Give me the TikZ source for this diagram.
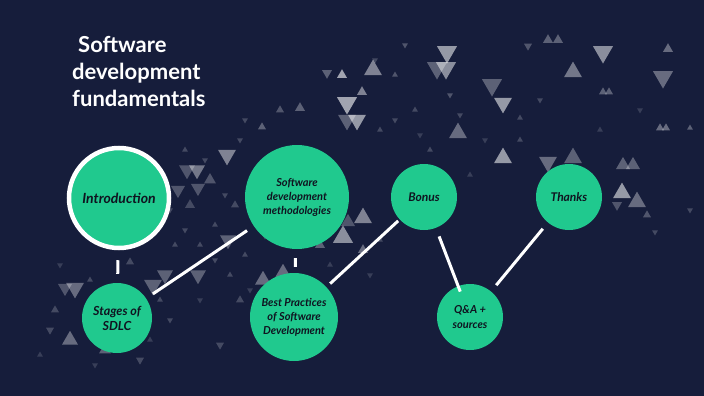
\documentclass[tikz,border=0pt]{standalone}
\usepackage{fontspec}
\setmainfont{Lato}
\usepackage{xcolor}
\usetikzlibrary{positioning}
\definecolor{navy}{HTML}{161D3B}
\definecolor{mint}{HTML}{20C98E}
\definecolor{ink}{HTML}{0F1420}

\begin{document}
\begin{tikzpicture}[x=1pt,y=-1pt,
  topic/.style={circle,fill=mint,text=ink,align=center,inner sep=0pt,font=\bfseries\itshape},
  link/.style={draw=white,line width=3pt},
  tri/.style={fill=white,opacity=#1}]
\fill[navy](0,0)rectangle(704,396);
% triangles pointing up
\foreach \x/\y/\s/\o in {373/70/18/.45,342/75/10/.6,362/92/10/.45,458/133/18/.35,573/72/18/.4,
548/40/10/.3,558/40/10/.3,668/49/10/.35,603/92/8/.3,609/92/8/.3,660/128/8/.35,666/128/8/.35,
503/158/18/.55,573/158/18/.3,623/165/14/.3,633/165/14/.3,622/193/18/.55,637/202/18/.35,
647/215/8/.25,363/218/18/.45,343/237/20/.5,348/222/14/.25,363/250/10/.35,263/280/16/.35,
283/273/16/.35,70/340/16/.35,105/350/12/.3,300/108/10/.3,262/127/8/.3,210/180/12/.25,
190/205/10/.2,320/245/10/.3,690/128/6/.3,130/262/8/.2,55/310/8/.2,240/300/8/.2,
395/75/6/.25,415/110/6/.2,520/118/6/.2,280/110/8/.25,235/205/8/.2,
185/150/6/.2,215/225/6/.2,175/245/6/.2,245/255/6/.2,160/300/6/.2,40/355/6/.15,
90/280/6/.2,150/340/6/.15,230/275/6/.2,380/130/6/.2,430/150/6/.2,470/175/6/.15,
520/140/6/.2,600/130/6/.15,200/245/6/.2,255/220/6/.15,380/240/6/.2,330/265/6/.15}
  \fill[tri=\o]({\x-\s/2},{\y+0.289*\s})--({\x+\s/2},{\y+0.289*\s})--(\x,{\y-0.577*\s})--cycle;
% triangles pointing down
\foreach \x/\y/\s/\o in {447/52/20/.55,437/68/20/.3,446/68/20/.5,327/73/10/.3,347/103/20/.6,
347/120/18/.3,357/120/18/.55,492/85/20/.3,503/103/18/.55,603/52/20/.5,663/77/20/.35,
548/162/18/.35,227/155/18/.45,197/170/16/.4,187/170/16/.25,178/190/14/.25,198/188/14/.25,
228/240/16/.3,165/275/16/.3,198/275/16/.3,75/288/18/.35,65/288/14/.25,153/285/18/.3,
617/205/10/.25,528/46/8/.25,405/45/6/.25,375/60/6/.2,450/95/6/.25,590/175/6/.2,
655/232/6/.2,50/330/8/.2,140/360/8/.2,220/345/8/.2,320/215/8/.2,265/235/8/.2,
690/210/6/.2,245/120/6/.2,
205/160/6/.2,225/195/6/.2,185/230/6/.2,215/260/6/.2,250/290/6/.15,170/320/6/.2,
95/365/6/.15,60/265/6/.15,395/120/6/.2,420/135/6/.15,460/115/6/.2,485/140/6/.15,
540/100/6/.2,640/110/6/.15,370/275/6/.15,200/300/6/.15,240/140/6/.2,170/210/6/.2}
  \fill[tri=\o]({\x-\s/2},{\y-0.289*\s})--({\x+\s/2},{\y-0.289*\s})--(\x,{\y+0.577*\s})--cycle;
% title
\node[anchor=north west,align=left,text=white,font=\bfseries\fontsize{22}{27}\selectfont,inner sep=0pt]
  (title) at (72,36) {\hspace{6pt}Software\\development\\fundamentals};
% topics
\node[topic,minimum size=100pt,draw=white,line width=4.5pt,font=\bfseries\itshape\fontsize{14}{16}\selectfont]
  (intro) at (119,198) {Introduction};
\node[topic,minimum size=70pt,font=\bfseries\itshape\fontsize{12.5}{15}\selectfont]
  (stages) at (117,318) {Stages of\\SDLC};
\node[topic,minimum size=104pt,font=\bfseries\itshape\fontsize{11}{14}\selectfont]
  (methods) at (297,197) {Software\\development\\methodologies};
\node[topic,minimum size=88pt,font=\bfseries\itshape\fontsize{11}{14}\selectfont]
  (practices) at (294,317) {Best Practices\\of Software\\Development};
\node[topic,minimum size=66pt,font=\bfseries\itshape\fontsize{12}{14}\selectfont]
  (bonus) at (424,197) {Bonus};
\node[topic,minimum size=66pt,font=\bfseries\itshape\fontsize{11}{15}\selectfont]
  (qa) at (470,317) {Q\&A +\\sources};
\node[topic,minimum size=66pt,font=\bfseries\itshape\fontsize{12}{14}\selectfont]
  (thanks) at (569,197) {Thanks};
% links
\draw[link,shorten <=10pt,shorten >=9pt](intro)--(stages);
\draw[link,shorten <=8pt,shorten >=8pt](stages)--(methods);
\draw[link,shorten <=9pt,shorten >=6pt](methods)--(practices);
\draw[link,shorten <=5pt,shorten >=2pt](practices)--(bonus);
\draw[link,shorten <=9pt,shorten >=-6pt](bonus)--(qa);
\draw[link,shorten <=8pt,shorten >=8pt](qa)--(thanks);
\end{tikzpicture}
\end{document}
